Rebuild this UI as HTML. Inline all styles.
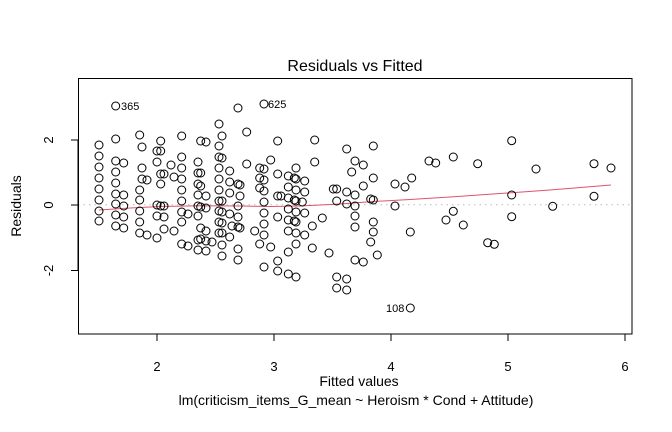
<!DOCTYPE html>
<html><head><style>body{margin:0;background:#fff}svg{display:block}text{font-family:"Liberation Sans",Arial,sans-serif;fill:#000}</style></head><body>
<svg width="672" height="432" viewBox="0 0 672 432" xmlns="http://www.w3.org/2000/svg">
<rect width="672" height="432" fill="#fff"/>
<line x1="78" y1="204.7" x2="632" y2="204.7" stroke="#bbb" stroke-dasharray="1.5,4" stroke-width="1"/>
<polyline fill="none" stroke="#DF536B" stroke-width="1" points="99,210 130,208 160,206.5 200,205.8 240,206 270,206.5 300,206 340,204 373,201.5 410,199.5 450,197 500,193.5 550,190 611,185"/>
<g fill="none" stroke="#000" stroke-width="1" id="pts"></g>
<rect x="78.5" y="78.5" width="553.5" height="255.5" fill="none" stroke="#000"/>
<g stroke="#000">
<line x1="157" y1="334" x2="625" y2="334"/>
<line x1="157" y1="334" x2="157" y2="341"/><line x1="274" y1="334" x2="274" y2="341"/><line x1="391" y1="334" x2="391" y2="341"/><line x1="508" y1="334" x2="508" y2="341"/><line x1="625" y1="334" x2="625" y2="341"/>
<line x1="78" y1="140" x2="78" y2="271"/>
<line x1="71" y1="140" x2="78" y2="140"/><line x1="71" y1="205" x2="78" y2="205"/><line x1="71" y1="270.5" x2="78" y2="270.5"/>
</g>
<g font-size="13" text-anchor="middle">
<text x="157" y="371">2</text><text x="274" y="371">3</text><text x="391" y="371">4</text><text x="508" y="371">5</text><text x="625" y="371">6</text>
<text transform="translate(53,140) rotate(-90)">2</text>
<text transform="translate(53,205) rotate(-90)">0</text>
<text transform="translate(53,270.5) rotate(-90)">-2</text>
</g>
<g font-size="14" text-anchor="middle">
<text transform="translate(21,206) rotate(-90)">Residuals</text>
<text x="359" y="386">Fitted values</text>
<text x="356" y="405">lm(criticism_items_G_mean ~ Heroism * Cond + Attitude)</text>
</g>
<text x="355" y="71" font-size="16" text-anchor="middle">Residuals vs Fitted</text>
<g font-size="11">
<text x="121" y="110">365</text>
<text x="268" y="108">625</text>
<text x="386" y="312">108</text>
</g>
</svg>
<script>
var d=[
[99,[145,156,167,178,189,200,211,221]],
[115.7,[106,139,161,172,183,194,204,215,226]],
[123.7,[163,195,206,217,228]],
[139.7,[135,190,200,211,222,233]],
[142,[147,168,179]],[147,[180,235]],
[157,[151,162,205,216,238]],
[160.7,[141,151,174,184,206]],
[164,[174,206,217,229]],[171,[165]],[174,[177,231]],
[181.7,[136,157,168,179,190,201,212,222,244]],[188,[214,246]],
[198,[162,173,184,195,206,216,240,250]],
[200.7,[141,173,186,207,228,239]],
[206,[142,196,208,231,241,251]],[212,[242]],
[219,[124,146,157,168,179,190,201,211,222,233]],
[222,[136,158,201,212,223,233,245,256]],
[229.7,[171,182,193,214,237]],[232,[226]],
[238,[108,184,206,217,227,249,260]],[240,[185,196,228]],
[246.7,[132,164]],[254.7,[231]],
[259.7,[168,178,188,244]],
[264,[104,169,180,191,202,213,224,235,267]],
[270.7,[160,247]],
[277.7,[141,174,196,217,261,271]],[281,[196]],
[288.3,[176,187,198,209,220,231,252,274]],
[296,[168,179,190,201,212,222,233,244,277]],
[294.3,[178,200,221]],[302.3,[202]],[304.7,[181,192,213,235]],
[312.3,[226,248]],[314.7,[140,162]],[322.3,[218]],[329,[253]],
[333.3,[189]],[336.7,[189,201,277,288]],
[346.7,[149,192,204,279,290]],[351.7,[172]],
[355,[161,195,206,216,227,260]],[363.3,[165,186,262]],
[370.7,[199,242]],[373.3,[146,178,200,222,232]],[377.3,[255]],
[395,[184,206]],[405,[187]],[411.7,[178]],[410.3,[232,308]],
[429,[161]],[435.7,[163]],[446,[220]],
[453.3,[157,211.3]],[463.3,[225]],[477.7,[163.7]],[487.7,[242.7]],[494.3,[244.3]],
[511.7,[140.7,195,216.7]],[536,[169]],[552.7,[206.3]],[594,[163.7,196.3]],[611,[168]]
];
var g=document.getElementById('pts'),s='';
d.forEach(function(c){c[1].forEach(function(y){s+='<circle cx="'+c[0]+'" cy="'+y+'" r="4"/>';});});
g.innerHTML=s;
</script>
</body></html>
